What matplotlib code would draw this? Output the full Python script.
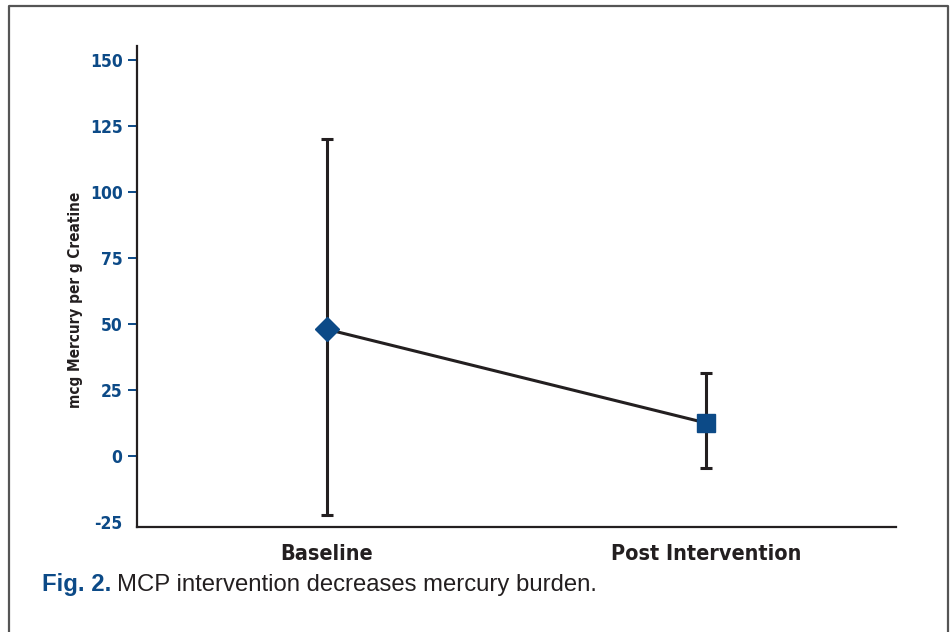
import numpy as np
import matplotlib.pyplot as plt
from matplotlib.lines import Line2D

# data
groups = ["Baseline", "Post Intervention"]
means = [48, 12.5]
upper = [120, 31.5]
lower = [-22.5, -4.5]
markers = ["D", "s"]
yticks = [-25, 0, 25, 50, 75, 100, 125, 150]

blue = "#0c4a87"
dark = "#231f20"
narrow = ["DejaVu Sans"]
plain = ["Liberation Sans", "DejaVu Sans"]

fig = plt.figure(figsize=(9.53, 6.32), dpi=100)
ax = fig.add_axes([0.1438, 0.1661, 0.7964, 0.7611])

x = np.arange(1, len(groups) + 1)
ax.plot(x, means, color=dark, linewidth=2.2, zorder=2)
for xi, m, hi, lo, mk in zip(x, means, upper, lower, markers):
    ax.errorbar([xi], [m], yerr=[[m - lo], [hi - m]], fmt="none",
                ecolor=dark, elinewidth=2.2, capsize=4.5, capthick=2.2, zorder=1)
    ms = 12.5 if mk == "D" else 13
    ax.plot([xi], [m], marker=mk, markersize=ms, color=blue,
            markeredgecolor=blue, linestyle="none", zorder=3)

ax.set_xlim(0.5, 2.5)
ax.set_ylim(-26.9, 155.3)
ax.set_yticks(yticks)
ax.set_yticklabels([str(t) for t in yticks])
ax.set_xticks(x)
ax.set_xticklabels(groups)

for side in ["top", "right"]:
    ax.spines[side].set_visible(False)
for side in ["left", "bottom"]:
    ax.spines[side].set_linewidth(1.6)
    ax.spines[side].set_color(dark)

ax.tick_params(axis="y", length=6.5, width=1.4, color=blue, pad=4)
ax.tick_params(axis="x", length=0, pad=12)
for lab in ax.get_yticklabels():
    lab.set_fontfamily(narrow)
    lab.set_fontstretch("condensed")
    lab.set_fontweight("bold")
    lab.set_fontsize(12.5)
    lab.set_color(blue)
for lab in ax.get_xticklabels():
    lab.set_fontfamily(narrow)
    lab.set_fontstretch("condensed")
    lab.set_fontweight("bold")
    lab.set_fontsize(15.5)
    lab.set_color(dark)
# no tick mark at -25
ax.yaxis.get_major_ticks()[0].tick1line.set_visible(False)

ax.set_ylabel("mcg Mercury per g Creatine", fontsize=11, fontweight="bold",
              family=narrow, fontstretch="condensed", color=dark)
ax.yaxis.set_label_coords(-0.071, 0.472)

fig.text(42 / 953, 1 - 585 / 632, "Fig. 2.", fontsize=17.2, fontweight="bold",
         color=blue, family=plain, va="center", ha="left")
fig.text(117 / 953, 1 - 585 / 632, "MCP intervention decreases mercury burden.",
         fontsize=17.2, color=dark, family=plain, va="center", ha="left")

# frame around the figure panel
fx = [9 / 953, 9 / 953, 948 / 953, 948 / 953]
fy = [0, 1 - 6 / 632, 1 - 6 / 632, 0]
fig.add_artist(Line2D(fx, fy, transform=fig.transFigure, color="#555555", linewidth=1.6))

fig.savefig("out.png", dpi=100)
